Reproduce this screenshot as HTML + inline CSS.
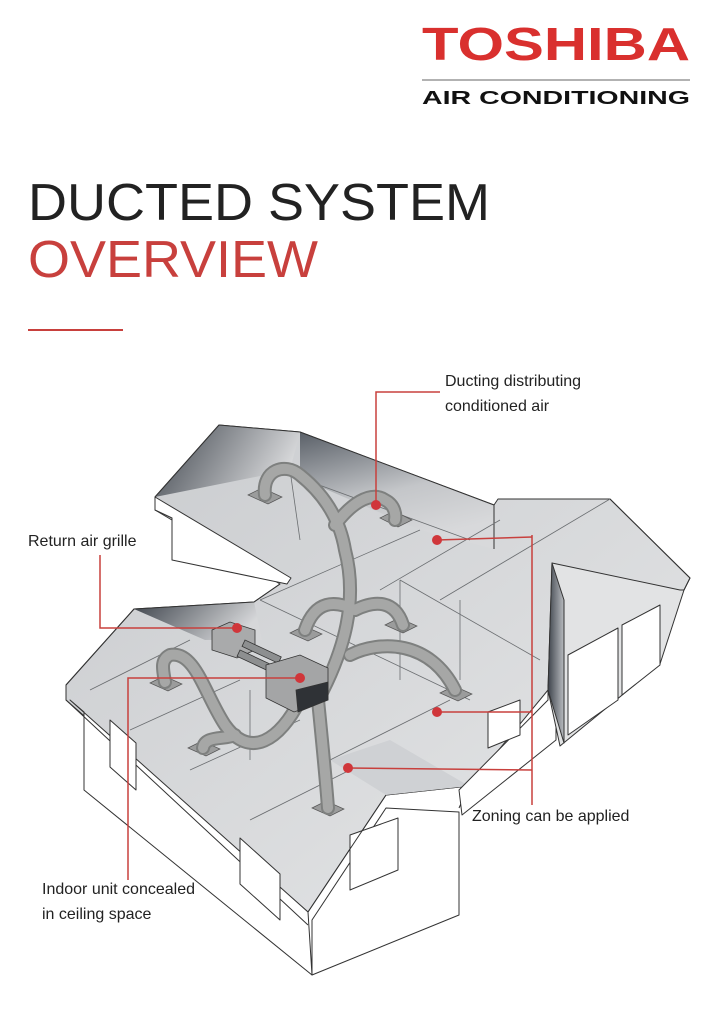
<!DOCTYPE html>
<html><head><meta charset="utf-8"><style>
html,body{margin:0;padding:0;background:#fff;}
svg{display:block;}
text{font-family:"Liberation Sans",sans-serif;}
</style></head><body>
<svg width="714" height="1024" viewBox="0 0 714 1024" xmlns="http://www.w3.org/2000/svg">
<defs>
<linearGradient id="dk" x1="0" y1="0" x2="1" y2="0.3"><stop offset="0" stop-color="#3e444c"/><stop offset="1" stop-color="#d6d7d9"/></linearGradient>
<linearGradient id="dk2" x1="0" y1="0" x2="0.4" y2="1"><stop offset="0" stop-color="#5a6068"/><stop offset="0.6" stop-color="#c4c6c9"/><stop offset="1" stop-color="#d8d9db"/></linearGradient>
<linearGradient id="rf" x1="0" y1="0" x2="1" y2="1"><stop offset="0" stop-color="#c9cbce"/><stop offset="1" stop-color="#e6e7e8"/></linearGradient>
<linearGradient id="gr" x1="0" y1="0" x2="1" y2="0"><stop offset="0" stop-color="#3e444c"/><stop offset="1" stop-color="#b8bbbf"/></linearGradient>
</defs>
<rect width="714" height="1024" fill="#fff"/>
<!-- header -->
<text x="422" y="60" font-size="46" font-weight="bold" fill="#d9302e" textLength="268" lengthAdjust="spacingAndGlyphs">TOSHIBA</text>
<line x1="422" y1="80" x2="690" y2="80" stroke="#999" stroke-width="1.5"/>
<text x="422" y="104" font-size="18" font-weight="bold" fill="#111" textLength="268" lengthAdjust="spacingAndGlyphs">AIR CONDITIONING</text>
<text x="28" y="220" font-size="52" fill="#222" textLength="462" lengthAdjust="spacingAndGlyphs">DUCTED SYSTEM</text>
<text x="28" y="277" font-size="52" fill="#c8403d" textLength="290" lengthAdjust="spacingAndGlyphs">OVERVIEW</text>
<line x1="28" y1="330" x2="123" y2="330" stroke="#c8403d" stroke-width="2"/>

<!-- house -->
<g stroke="#333" stroke-width="1" stroke-linejoin="round">
<!-- big ceiling plane -->
<polygon points="219,425 300,432 494,505 498,499 610,499 690,578 684,590 548,690 469,786 386,795 308,912 66,700 66,685 134,609 254,602 280,584 155,510 155,497" fill="url(#rf)"/>
<!-- upper wing wall -->
<polygon points="155,497 155,510 172,518 172,560 287,584 291,578" fill="#fff"/>
<!-- upper gable dark -->
<polygon points="219,425 155,497 290,470 300,432" fill="url(#dk)" stroke="none"/>
<polygon points="300,432 494,505 494,549 420,530 300,478" fill="url(#dk2)" stroke="none"/>
<polyline points="155,497 219,425 300,432 494,505 494,549" fill="none"/>
<!-- lower wing gable dark -->
<polygon points="134,609 254,602 262,640 205,640" fill="url(#dk)" stroke="none"/>
<polyline points="66,685 134,609 254,602 280,584" fill="none"/>
<!-- left wall -->
<polygon points="70,700 308,912 312,975 84,790 84,712" fill="#fff"/>
<polyline points="66,685 66,700 308,925" fill="none"/>
<!-- windows left wall -->
<polygon points="110,720 136,743 136,790 110,767" fill="#fff"/>
<polygon points="240,838 280,874 280,920 240,884" fill="#fff"/>
<!-- front gable wall -->
<polygon points="312,920 386,808 459,812 459,915 312,975" fill="#fff"/>
<polygon points="350,835 398,818 398,870 350,890" fill="#fff"/>
<polyline points="308,912 386,795 469,786 459,808" fill="none"/>
<!-- front gable roof slope -->
<polygon points="386,795 469,786 390,740 330,760" fill="#cfd1d4" stroke="none"/>
<!-- right wing wall -->
<polygon points="459,790 548,700 548,685 556,690 556,740 462,815" fill="#fff"/>
<polygon points="488,712 520,700 520,735 488,748" fill="#fff"/>
<!-- garage -->
<polygon points="552,563 680,590 684,590 660,664 560,746 548,690" fill="#e2e3e4"/>
<polygon points="552,563 564,600 564,743 548,690" fill="url(#gr)"/>
<polygon points="568,655 618,628 618,700 568,735" fill="#fff"/>
<polygon points="622,625 660,605 660,665 622,695" fill="#fff"/>
<polyline points="610,499 690,578 684,590" fill="none"/>
</g>
<!-- interior lines -->
<g stroke="#6a6d70" stroke-width="0.8" fill="none">
<line x1="290" y1="470" x2="300" y2="540"/>
<line x1="300" y1="478" x2="470" y2="540"/>
<line x1="420" y1="530" x2="260" y2="600"/>
<line x1="500" y1="520" x2="380" y2="590"/>
<line x1="260" y1="600" x2="470" y2="700"/>
<line x1="400" y1="580" x2="540" y2="660"/>
<line x1="400" y1="580" x2="400" y2="680"/>
<line x1="460" y1="600" x2="460" y2="680"/>
<line x1="610" y1="499" x2="440" y2="600"/>
<line x1="90" y1="690" x2="190" y2="640"/>
<line x1="130" y1="730" x2="240" y2="680"/>
<line x1="190" y1="770" x2="300" y2="720"/>
<line x1="250" y1="820" x2="350" y2="770"/>
<line x1="330" y1="760" x2="450" y2="700"/>
<line x1="250" y1="690" x2="250" y2="760"/>
</g>
<!-- vents -->
<g fill="#9b9c9c" stroke="#555" stroke-width="0.7">
<polygon points="248,495 262,488 282,497 268,504"/>
<polygon points="380,518 394,511 412,520 398,527"/>
<polygon points="290,633 304,626 322,634 308,641"/>
<polygon points="385,625 399,618 417,626 403,633"/>
<polygon points="440,693 454,686 472,694 458,701"/>
<polygon points="150,683 164,676 182,684 168,691"/>
<polygon points="188,748 202,741 220,749 206,756"/>
<polygon points="312,808 326,801 344,809 330,816"/>
</g>
<!-- ducts -->
<g fill="none" stroke-linecap="round">
<g stroke="#7e807f" stroke-width="14">
<path d="M318,700 C345,650 358,600 345,550 C340,520 325,495 300,475 C285,462 262,470 265,495"/>
<path d="M335,525 C350,505 370,490 385,500 C395,505 396,515 395,520"/>
<path d="M355,610 C335,600 315,600 305,630"/>
<path d="M355,610 C375,600 395,600 403,625"/>
<path d="M350,655 C380,640 430,640 455,690"/>
<path d="M318,700 C322,740 326,780 328,808"/>
<path d="M300,700 C280,740 250,760 225,725 C205,695 195,650 170,655 C160,660 163,670 165,682"/>
<path d="M235,735 C225,740 205,735 203,748"/>
</g>
<g stroke="#a6a7a6" stroke-width="10">
<path d="M318,700 C345,650 358,600 345,550 C340,520 325,495 300,475 C285,462 262,470 265,495"/>
<path d="M335,525 C350,505 370,490 385,500 C395,505 396,515 395,520"/>
<path d="M355,610 C335,600 315,600 305,630"/>
<path d="M355,610 C375,600 395,600 403,625"/>
<path d="M350,655 C380,640 430,640 455,690"/>
<path d="M318,700 C322,740 326,780 328,808"/>
<path d="M300,700 C280,740 250,760 225,725 C205,695 195,650 170,655 C160,660 163,670 165,682"/>
<path d="M235,735 C225,740 205,735 203,748"/>
</g>
</g>
<!-- units -->
<g stroke="#333" stroke-width="0.8">
<polygon points="212,630 230,622 255,630 255,650 237,658 212,650" fill="#a9aaab"/>
<rect x="245" y="640" width="40" height="7" fill="#8d8f90" transform="rotate(25 245 640)"/>
<rect x="240" y="650" width="40" height="7" fill="#8d8f90" transform="rotate(25 240 650)"/>
<polygon points="266,665 300,655 328,668 328,700 294,712 266,698" fill="#a4a5a6"/>
<polygon points="296,690 328,682 328,700 298,712" fill="#2f3236"/>
</g>

<!-- red leaders -->
<g stroke="#c8403d" stroke-width="1.5" fill="none">
<polyline points="440,392 376,392 376,505"/>
<polyline points="100,555 100,628 237,628"/>
<polyline points="300,678 128,678 128,880"/>
<line x1="532" y1="535" x2="532" y2="805"/>
<line x1="437" y1="540" x2="532" y2="537"/>
<line x1="437" y1="712" x2="532" y2="712"/>
<line x1="348" y1="768" x2="532" y2="770"/>
</g>
<g fill="#d0363a">
<circle cx="376" cy="505" r="5"/><circle cx="237" cy="628" r="5"/><circle cx="300" cy="678" r="5"/>
<circle cx="437" cy="540" r="5"/><circle cx="437" cy="712" r="5"/><circle cx="348" cy="768" r="5"/>
</g>
<g font-size="16" fill="#222">
<text x="445" y="386">Ducting distributing</text>
<text x="445" y="411">conditioned air</text>
<text x="28" y="546">Return air grille</text>
<text x="472" y="821">Zoning can be applied</text>
<text x="42" y="894">Indoor unit concealed</text>
<text x="42" y="919">in ceiling space</text>
</g>
</svg>
</body></html>
